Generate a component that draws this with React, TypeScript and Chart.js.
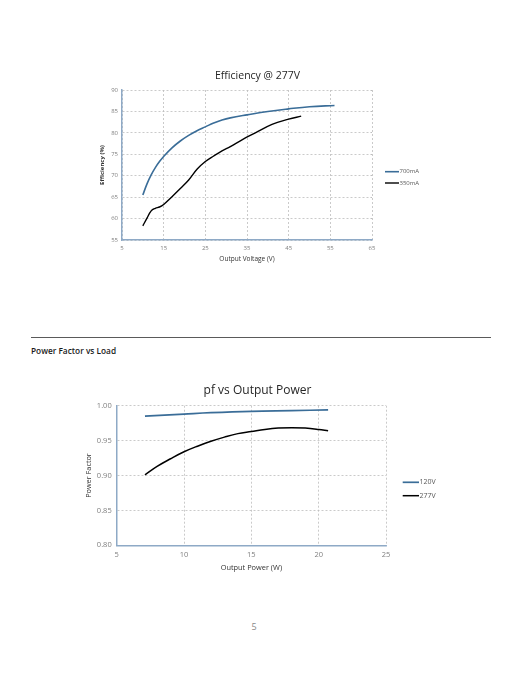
import React, { useEffect, useRef } from "react";
import { Chart, registerables } from "chart.js";

Chart.register(...registerables);

// ---- Efficiency @ 277V ----
const effVoltage700 = [10, 11, 12, 13, 14, 15, 17, 19, 21, 23, 25, 27, 29, 31, 35, 40, 45, 50, 56];
const eff700 = [65.5, 68.1, 70.2, 71.9, 73.3, 74.5, 76.5, 78.1, 79.4, 80.5, 81.4, 82.3, 83.0, 83.5, 84.2, 85.0, 85.6, 86.1, 86.4];
const effVoltage350 = [10, 11, 12, 13, 14, 15, 17, 19, 21, 23, 25, 27, 29, 31, 34, 37, 41, 45, 48];
const eff350 = [58.3, 60.1, 61.8, 62.4, 62.7, 63.3, 65.1, 67.0, 69.0, 71.5, 73.3, 74.6, 75.8, 76.8, 78.5, 80.0, 82.0, 83.2, 83.9];
const effXTicks = { min: 5, max: 65, step: 10 };
const effYTicks = { min: 55, max: 90, step: 5 };

// ---- pf vs Output Power ----
const pfPower120 = [7.1, 10, 12, 15, 18, 20.7];
const pf120 = [0.985, 0.988, 0.99, 0.992, 0.993, 0.994];
const pfPower277 = [7.1, 8, 9, 10, 11, 12, 13, 14, 15, 16, 17, 18, 19, 20, 20.7];
const pf277 = [0.901, 0.913, 0.924, 0.934, 0.942, 0.949, 0.955, 0.96, 0.963, 0.966, 0.968, 0.9685, 0.968, 0.966, 0.964];
const pfXTicks = { min: 5, max: 25, step: 5 };
const pfYTicks = { min: 0.8, max: 1.0, step: 0.05 };

const FONT = "'Open Sans', 'Noto Sans', sans-serif";
const BLUE = "#3a6d98";
const AXIS = "#8ea9c6";
const GRID = "#bdbdbd";

const toPoints = (xs: number[], ys: number[]) => xs.map((x, i) => ({ x, y: ys[i] }));

const sideLegend = {
  id: "sideLegend",
  afterDraw(chart: any, _args: any, opts: any) {
    const { ctx, chartArea } = chart;
    ctx.save();
    chart.data.datasets.forEach((ds: any, i: number) => {
      const y = opts.y[i];
      const x0 = chartArea.right + opts.x0;
      const x1 = chartArea.right + opts.x1;
      ctx.strokeStyle = ds.borderColor;
      ctx.lineWidth = ds.borderWidth;
      ctx.beginPath();
      ctx.moveTo(x0, y);
      ctx.lineTo(x1, y);
      ctx.stroke();
      ctx.fillStyle = opts.color;
      ctx.font = `${opts.size}px ${FONT}`;
      ctx.textBaseline = "middle";
      ctx.textAlign = "left";
      ctx.fillText(ds.label, x1 + 0.5, y);
    });
    ctx.restore();
  },
};

function EfficiencyChart() {
  const ref = useRef<HTMLCanvasElement>(null);
  useEffect(() => {
    const chart = new Chart(ref.current!, {
      type: "line",
      data: {
        datasets: [
          { label: "700mA", data: toPoints(effVoltage700, eff700), borderColor: BLUE, borderWidth: 1.6, pointRadius: 0, tension: 0.4, fill: false },
          { label: "350mA", data: toPoints(effVoltage350, eff350), borderColor: "#000000", borderWidth: 1.4, pointRadius: 0, tension: 0.4, fill: false },
        ],
      },
      options: {
        responsive: false,
        animation: false,
        layout: { padding: { left: 80, right: 87, top: 0, bottom: 30 } },
        plugins: {
          legend: { display: false },
          tooltip: { enabled: false },
          title: { display: true, text: "Efficiency @ 277V", color: "#262626", font: { family: FONT, size: 10.5, weight: "normal" }, padding: { top: 70, bottom: 7.4 } },
          sideLegend: { y: [171.7, 183], x0: 13, x1: 27, size: 6, color: "#595959" },
        } as any,
        scales: {
          x: {
            type: "linear",
            min: effXTicks.min,
            max: effXTicks.max,
            ticks: { stepSize: effXTicks.step, color: "#7f7f7f", font: { family: FONT, size: 6 }, padding: 5 },
            grid: { color: GRID, lineWidth: 0.8, drawTicks: false },
            border: { color: AXIS, width: 1.5, dash: [2, 2] },
            title: { display: true, text: "Output Voltage (V)", color: "#333333", font: { family: FONT, size: 6.5 }, padding: { top: 0, bottom: 7 } },
            afterFit: (s: any) => { s.height = 30; },
          },
          y: {
            type: "linear",
            min: effYTicks.min,
            max: effYTicks.max,
            ticks: { stepSize: effYTicks.step, color: "#7f7f7f", font: { family: FONT, size: 6 }, padding: 4 },
            grid: { color: GRID, lineWidth: 0.8, drawTicks: false },
            border: { color: AXIS, width: 1.5, dash: [2, 2] },
            title: { display: true, text: "Efficiency (%)", color: "#333333", font: { family: FONT, size: 6, weight: "bold" }, padding: { top: 18.6, bottom: 0 } },
            afterFit: (s: any) => { s.width = 42; },
          },
          yR: {
            type: "linear",
            position: "right",
            grid: { display: false },
            border: { display: false },
            ticks: { display: false },
            afterFit: (s: any) => { s.width = 63; },
          },
        },
      } as any,
      plugins: [sideLegend as any],
    });
    return () => chart.destroy();
  }, []);
  return <canvas ref={ref} width={522} height={300} style={{ position: "absolute", left: 0, top: 0 }} />;
}

function PfChart() {
  const ref = useRef<HTMLCanvasElement>(null);
  useEffect(() => {
    const chart = new Chart(ref.current!, {
      type: "line",
      data: {
        datasets: [
          { label: "120V", data: toPoints(pfPower120, pf120), borderColor: BLUE, borderWidth: 1.7, pointRadius: 0, tension: 0.4, fill: false },
          { label: "277V", data: toPoints(pfPower277, pf277), borderColor: "#000000", borderWidth: 1.5, pointRadius: 0, tension: 0.4, fill: false },
        ],
      },
      options: {
        responsive: false,
        animation: false,
        layout: { padding: { left: 80, right: 87, top: 0, bottom: 24.7 } },
        plugins: {
          legend: { display: false },
          tooltip: { enabled: false },
          title: { display: true, text: "pf vs Output Power", color: "#262626", font: { family: FONT, size: 12, weight: "normal" }, padding: { top: 23, bottom: 8.3 } },
          sideLegend: { y: [122.3, 135.7], x0: 16.7, x1: 33, size: 7, color: "#595959" },
        } as any,
        scales: {
          x: {
            type: "linear",
            min: pfXTicks.min,
            max: pfXTicks.max,
            ticks: { stepSize: pfXTicks.step, color: "#7f7f7f", font: { family: FONT, size: 7.5 }, padding: 5.5 },
            grid: { color: GRID, lineWidth: 0.8, drawTicks: false },
            border: { color: AXIS, width: 1.5, dash: [2, 2] },
            title: { display: true, text: "Output Power (W)", color: "#333333", font: { family: FONT, size: 7.4 }, padding: { top: 0, bottom: 3.4 } },
            afterFit: (s: any) => { s.height = 30; },
          },
          y: {
            type: "linear",
            min: pfYTicks.min,
            max: pfYTicks.max,
            ticks: { stepSize: pfYTicks.step, color: "#7f7f7f", font: { family: FONT, size: 7.5 }, padding: 5, callback: (v: any) => Number(v).toFixed(2) },
            grid: { color: GRID, lineWidth: 0.8, drawTicks: false },
            border: { color: AXIS, width: 1.5, dash: [2, 2] },
            title: { display: true, text: "Power Factor", color: "#333333", font: { family: FONT, size: 7.3 }, padding: { top: 4.1, bottom: 0 } },
            afterFit: (s: any) => { s.width = 36.7; },
          },
          yR: {
            type: "linear",
            position: "right",
            grid: { display: false },
            border: { display: false },
            ticks: { display: false },
            afterFit: (s: any) => { s.width = 49; },
          },
        },
      } as any,
      plugins: [sideLegend as any],
    });
    return () => chart.destroy();
  }, []);
  return <canvas ref={ref} width={522} height={240} style={{ position: "absolute", left: 0, top: 360 }} />;
}

export default function App() {
  return (
    <div style={{ position: "absolute", left: 0, top: 0, width: 522, height: 676, background: "#ffffff", overflow: "hidden", fontFamily: FONT }}>
      <EfficiencyChart />
      <div style={{ position: "absolute", left: 31, top: 337, width: 460, height: 1, background: "#5a5a5a" }} />
      <div style={{ position: "absolute", left: 31, top: 346, lineHeight: "10px", fontSize: 8.3, fontWeight: 600, color: "#1a1a1a", whiteSpace: "nowrap" }}>
        Power Factor vs Load
      </div>
      <PfChart />
      <div style={{ position: "absolute", left: 246, top: 621, width: 16, textAlign: "center", lineHeight: "12px", fontSize: 9, color: "#8a8a8a" }}>
        5
      </div>
    </div>
  );
}
